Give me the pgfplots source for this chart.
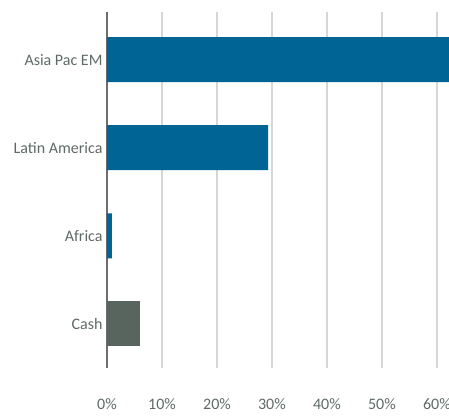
\documentclass[border=0pt]{standalone}
\usepackage{pgfplots}
\pgfplotsset{compat=1.18}
\usepackage{fontspec}
\setmainfont{Carlito}
\usetikzlibrary{calc}
\definecolor{barblue}{HTML}{006595}
\definecolor{bargray}{HTML}{58645E}
\definecolor{lblgray}{HTML}{5F6A66}
\definecolor{gridgray}{HTML}{D6D6D6}
\definecolor{axgray}{HTML}{6E6E6E}
\begin{document}
\begin{tikzpicture}
\begin{axis}[
  scale only axis,
  width=342pt, height=356pt,
  xmin=0, xmax=62.2,
  ymin=-0.5, ymax=3.54,
  xbar, bar width=45pt,
  clip=true,
  axis y line*=left,
  axis x line*=bottom,
  x axis line style={draw=none},
  y axis line style={draw=axgray, line width=1.5pt},
  xmajorgrids,
  grid style={draw=gridgray, line width=1.5pt},
  major tick length=0pt,
  xtick={0,10,20,30,40,50,60},
  xticklabel={\pgfmathprintnumber{\tick}\%},
  /pgf/number format/assume math mode=true,
  xticklabel style={yshift=-27pt, font=\fontsize{16}{18}\selectfont, text=lblgray},
  ytick={0,1,2,3},
  yticklabels={Cash,Africa,Latin America,Asia Pac EM},
  yticklabel style={font=\fontsize{16}{18}\selectfont, text=lblgray, xshift=-1pt},
]
\addplot+[bar shift=0pt, fill=barblue, draw=none] coordinates {(62.5,3) (29.3,2) (0.9,1)};
\addplot+[bar shift=0pt, fill=bargray, draw=none] coordinates {(6.0,0)};
\end{axis}
\pgfresetboundingbox
\path[use as bounding box] ($(current axis.south west)+(-107pt,-47pt)$) rectangle ($(current axis.north east)+(0pt,12pt)$);
\end{tikzpicture}
\end{document}
